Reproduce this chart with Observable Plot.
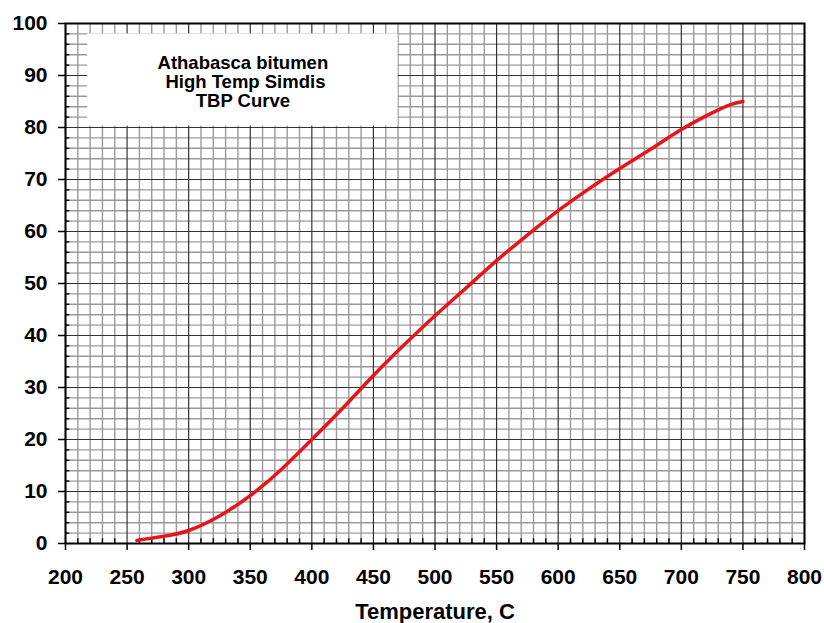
<!DOCTYPE html>
<html>
<head>
<meta charset="utf-8">
<script src="https://cdn.jsdelivr.net/npm/d3@7"></script>
<script src="https://cdn.jsdelivr.net/npm/@observablehq/plot@0.6"></script>
<style>
  html, body { margin: 0; padding: 0; background: #fff; }
  #chart { width: 824px; height: 623px; }
</style>
</head>
<body>
<div id="chart"></div>
<script>
// Data
const temperature = [258, 280, 300, 325, 350, 375, 400, 425, 450, 475, 500, 525, 550, 575, 600, 625, 650, 675, 700, 725, 740, 750];
const percentOff  = [0.6, 1.4, 2.5, 5.3, 9.2, 14.2, 20.0, 26.0, 32.3, 38.2, 43.8, 49.1, 54.4, 59.3, 64.0, 68.2, 72.1, 75.8, 79.6, 82.8, 84.4, 85.0];

const xTicks = [200, 250, 300, 350, 400, 450, 500, 550, 600, 650, 700, 750, 800];
const yTicks = [0, 10, 20, 30, 40, 50, 60, 70, 80, 90, 100];
const titleLines = ["Athabasca bitumen", " High Temp Simdis", "TBP Curve"];
const xLabel = "Temperature, C";

const xMinor = d3.range(200, 801, 10).filter(v => v % 50 !== 0);
const yMinor = d3.range(0, 101, 2).filter(v => v % 10 !== 0);
const curve = temperature.map((t, i) => ({t, p: percentOff[i]}));

const font = "'Liberation Sans', Arial, sans-serif";

const chart = Plot.plot({
  width: 824,
  height: 623,
  marginLeft: 65,
  marginRight: 20,
  marginTop: 23,
  marginBottom: 80,
  style: {fontFamily: font, background: "#fff", color: "#000"},
  x: {domain: [200, 800]},
  y: {domain: [0, 100]},
  marks: [
    // minor grid
    Plot.ruleX(xMinor, {stroke: "#9a9a9a", strokeWidth: 1.4}),
    Plot.ruleY(yMinor, {stroke: "#9a9a9a", strokeWidth: 1.4}),
    // major grid
    Plot.ruleX(xTicks, {stroke: "#333", strokeWidth: 1.2}),
    Plot.ruleY(yTicks, {stroke: "#333", strokeWidth: 1.2}),
    // inner minor ticks
    Plot.ruleX(xMinor, {y1: 0, y2: 0.9, stroke: "#000", strokeWidth: 1.4}),
    Plot.ruleY(yMinor, {x1: 200, x2: 203.5, stroke: "#000", strokeWidth: 1.4}),
    // title box
    Plot.rect([0], {x1: 218, x2: 470, y1: 80.25, y2: 98, fill: "#fff"}),
    Plot.text([titleLines.join("\n")], {
      x: 344, y: 88.8, fontSize: 18.5, fontWeight: "bold", lineHeight: 1.03,
      textAnchor: "middle", fill: "#000"
    }),
    // curve
    Plot.line(curve, {x: "t", y: "p", stroke: "#e8141b", strokeWidth: 3.5, curve: "natural"}),
    // axes
    Plot.axisX({
      ticks: xTicks, tickSize: 7, tickPadding: 19, label: null,
      fontSize: 21, fontWeight: "bold", stroke: "#000", strokeWidth: 1.5
    }),
    Plot.axisY({
      ticks: yTicks, tickSize: 7, tickPadding: 11, label: null,
      fontSize: 21, fontWeight: "bold", stroke: "#000", strokeWidth: 1.5
    }),
    Plot.frame({stroke: "#000", strokeWidth: 2}),
    Plot.text([xLabel], {
      frameAnchor: "bottom", dy: 68, fontSize: 22, fontWeight: "bold",
      fill: "#000", lineAnchor: "middle"
    })
  ]
});
document.getElementById("chart").appendChild(chart);
</script>
</body>
</html>
